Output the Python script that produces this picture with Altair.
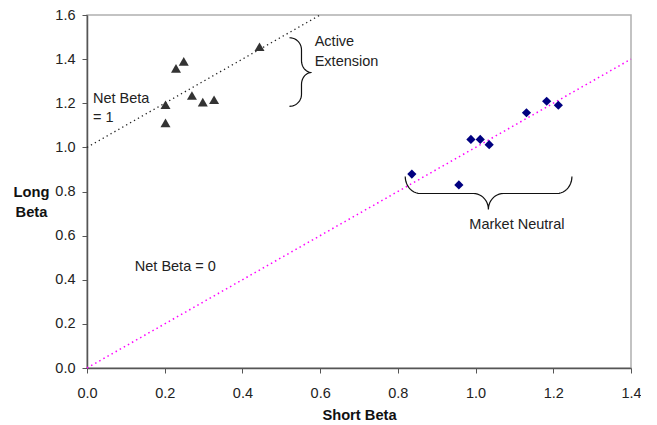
import altair as alt
import pandas as pd
import numpy as np

# ---- data ----
ext_short = [0.202, 0.202, 0.229, 0.249, 0.270, 0.298, 0.327, 0.444]
ext_long = [1.193, 1.111, 1.358, 1.390, 1.235, 1.205, 1.216, 1.456]

mn_short = [0.836, 0.957, 0.988, 1.012, 1.035, 1.131, 1.183, 1.213]
mn_long = [0.879, 0.830, 1.036, 1.036, 1.012, 1.157, 1.209, 1.191]

# reference lines: Net Beta = 1 and Net Beta = 0
nb1_x = [0.0, 0.6]
nb1_y = [1.0, 1.6]
nb0_x = [0.0, 1.4]
nb0_y = [0.0, 1.4]

# annotation texts
ann_text = ["Active", "Extension", "Net Beta", "= 1", "Market Neutral", "Net Beta = 0"]
ann_x = [0.586, 0.586, 0.0154, 0.0154, 0.984, 0.123]
ann_y = [1.4755, 1.389, 1.217, 1.131, 0.646, 0.460]

# braces (data units): vertical brace for "Active Extension", horizontal for "Market Neutral"
vb_x_end, vb_x_line, vb_x_tip = 0.521, 0.552, 0.578
vb_y_top, vb_y_mid, vb_y_bot = 1.497, 1.3395, 1.186
hb_x_left, hb_x_mid, hb_x_right = 0.819, 1.033, 1.248
hb_y_end, hb_y_line, hb_y_tip = 0.868, 0.791, 0.7185

W, H = 544, 353
XMAX, YMAX = 1.4, 1.6
sx = W / XMAX
sy = H / YMAX


def brace_path(u0, um, u1, ve, vl, vt, r, r2, n=12):
    """path in a generic (along, across) pixel frame"""
    pts = []
    t = np.linspace(0, np.pi / 2, n)
    for a in t:
        pts.append((u0 + r - r * np.cos(a), ve + (vl - ve) * np.sin(a)))
    for a in t:
        pts.append((um - r2 + r2 * np.sin(a), vl + (vt - vl) * (1 - np.cos(a))))
    for a in t[::-1]:
        pts.append((um + r2 - r2 * np.sin(a), vl + (vt - vl) * (1 - np.cos(a))))
    for a in t[::-1]:
        pts.append((u1 - r + r * np.cos(a), ve + (vl - ve) * np.sin(a)))
    return pts


rows = []
hp = brace_path(hb_x_left * sx, hb_x_mid * sx, hb_x_right * sx,
                -hb_y_end * sy, -hb_y_line * sy, -hb_y_tip * sy, 15, 15)
for i, (u, v) in enumerate(hp):
    rows.append({"b": "h", "o": i, "x": u / sx, "y": -v / sy})
vp = brace_path(-vb_y_top * sy, -vb_y_mid * sy, -vb_y_bot * sy,
                vb_x_end * sx, vb_x_line * sx, vb_x_tip * sx, 12, 12)
for i, (u, v) in enumerate(vp):
    rows.append({"b": "v", "o": i, "x": v / sx, "y": -u / sy})
braces = pd.DataFrame(rows)

ext_df = pd.DataFrame({"short": ext_short, "long": ext_long})
mn_df = pd.DataFrame({"short": mn_short, "long": mn_long})
nb1_df = pd.DataFrame({"short": nb1_x, "long": nb1_y})
nb0_df = pd.DataFrame({"short": nb0_x, "long": nb0_y})
ann_df = pd.DataFrame({"t": ann_text, "x": ann_x, "y": ann_y})

FONT = "Liberation Sans"

xs = alt.Scale(domain=[0, XMAX], nice=False, zero=True)
ys = alt.Scale(domain=[0, YMAX], nice=False, zero=True)

xaxis = alt.Axis(values=[0, 0.2, 0.4, 0.6, 0.8, 1.0, 1.2, 1.4], format=".1f",
                 grid=False, tickSize=5, labelPadding=13, titlePadding=8,
                 labelFlush=False,
                 domainColor="#555555", tickColor="#555555", domainWidth=1.5,
                 labelFont=FONT, labelFontSize=14.5, labelColor="#222222",
                 titleFont=FONT, titleFontSize=14.7, titleFontWeight="bold",
                 titleColor="#111111")
yaxis = alt.Axis(values=[0, 0.2, 0.4, 0.6, 0.8, 1.0, 1.2, 1.4, 1.6], format=".1f",
                 grid=False, tickSize=5, labelPadding=7, labelFlush=False,
                 domainColor="#555555", tickColor="#555555", domainWidth=1.5,
                 labelFont=FONT, labelFontSize=14.5, labelColor="#222222",
                 title=["Long", "Beta"], titleAngle=0, titleAlign="center",
                 titleBaseline="middle", titleX=-56, titleY=177, titleLineHeight=20,
                 titleFont=FONT, titleFontSize=14.7, titleFontWeight="bold",
                 titleColor="#111111")

base_x = alt.X("short:Q", scale=xs, axis=xaxis, title="Short Beta")
base_y = alt.Y("long:Q", scale=ys, axis=yaxis)

line1 = alt.Chart(nb1_df).mark_line(color="#222222", strokeWidth=1.3, strokeDash=[1.3, 3.2]).encode(
    x=base_x, y=base_y)
line0 = alt.Chart(nb0_df).mark_line(color="#ff00ff", strokeWidth=1.5, strokeDash=[1.5, 3.2]).encode(
    x="short:Q", y="long:Q")

tri = alt.Chart(ext_df).mark_point(shape="triangle-up", filled=True, size=100,
                                   color="#333333", opacity=1).encode(x="short:Q", y="long:Q")
dia = alt.Chart(mn_df).mark_point(shape="diamond", filled=True, size=85,
                                  color="#000080", opacity=1).encode(x="short:Q", y="long:Q")

br = alt.Chart(braces).mark_line(color="#111111", strokeWidth=1.2).encode(
    x=alt.X("x:Q"), y=alt.Y("y:Q"), detail="b:N", order="o:Q")

txt = alt.Chart(ann_df).mark_text(align="left", baseline="middle", font=FONT,
                                  fontSize=14.5, color="#222222").encode(
    x="x:Q", y="y:Q", text="t:N")

chart = alt.layer(line1, line0, br, tri, dia, txt).properties(
    width=W, height=H,
    autosize=alt.AutoSizeParams(type="none"),
    padding={"left": 79, "top": 7, "right": 10, "bottom": 56},
).configure_view(stroke="#b0b0b0", strokeWidth=1.5)

chart.save("out.html", embed_options={"renderer": "svg", "actions": False})
